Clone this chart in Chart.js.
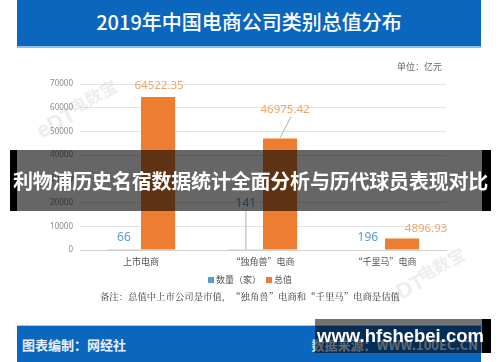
<!DOCTYPE html>
<html><head><meta charset="utf-8">
<script src="https://cdn.jsdelivr.net/npm/chart.js@4.4.0/dist/chart.umd.min.js"></script>
<style>
html,body{margin:0;padding:0;background:#fff;width:500px;height:362px;overflow:hidden;font-family:"Noto Sans CJK SC","Noto Sans",sans-serif}
#wrap{position:relative;width:500px;height:362px}
canvas{position:absolute;left:0;top:0}
.abs{position:absolute;white-space:nowrap}
#titleBand{left:17px;top:0;width:464px;height:46px;background:#0b66bd;border-bottom:2px solid #8cc3ea}
#title{left:17px;width:464px;top:9px;text-align:center;color:#fff;font-size:20px;font-weight:500;line-height:26px}
#unit{right:58px;top:60px;font-size:9px;color:#666}
#legend{left:0;width:500px;top:273px;text-align:center;font-size:9px;color:#555}
.sw{display:inline-block;width:6px;height:6px;margin-right:2px;vertical-align:0px}
#note{left:0;width:500px;top:289px;text-align:center;font-size:9.4px;color:#333;font-family:"Noto Serif CJK SC","Noto Sans CJK SC",serif}
#footBand{left:17px;top:325px;width:464px;height:37px;background:#0b66bd;border-top:1px solid #9ccbeb}
#foot1{left:22px;top:335px;color:#e8f0fa;font-size:13px;font-weight:700}
#foot2{right:22px;top:335px;color:#d8e6f5;font-size:13px;font-weight:700}
#banner{left:10px;top:150px;width:481px;height:61px}
.blk{position:absolute;top:0;height:100%;background:#000}
#bannerMid{position:absolute;left:7px;right:9px;top:0;height:100%;background:rgba(0,0,0,0.6)}
#bannerText{left:10px;width:481px;top:163px;text-align:center;color:#fff;font-size:20px;font-weight:700;line-height:36px;letter-spacing:-0.2px}
#site{left:315px;top:319px;width:176px;height:34px}
#siteText{left:317px;width:167px;top:321px;text-align:center;color:#fff;font-size:18.5px;font-weight:700;font-family:"Liberation Sans","DejaVu Sans",sans-serif;line-height:30px}
.wm{position:absolute;color:rgba(140,140,140,0.16);font-weight:700;transform:rotate(-28deg);transform-origin:left bottom}
</style></head>
<body><div id="wrap">
<div class="abs" id="titleBand"></div>
<div class="abs" id="title">2019年中国电商公司类别总值分布</div>
<canvas id="c" width="500" height="362"></canvas>
<div class="wm" style="left:44px;top:118px;font-size:22px;font-family:'Liberation Sans',sans-serif">eDT</div>
<div class="wm" style="left:76px;top:94px;font-size:17px">电数宝</div>
<div class="wm" style="left:393px;top:285px;font-size:22px;font-family:'Liberation Sans',sans-serif">eDT</div>
<div class="wm" style="left:424px;top:262px;font-size:17px">电数宝</div>
<div class="abs" id="unit">单位：亿元</div>
<div class="abs" id="legend"><span class="sw" style="background:#5b9bd5"></span>数量（家） <span class="sw" style="background:#ed7d31;margin-left:3px"></span>总值</div>
<div class="abs" id="note">备注：总值中上市公司是市值，“独角兽”电商和“千里马”电商是估值</div>
<div class="abs" id="footBand"></div>
<div class="abs" id="foot1">图表编制：网经社</div>
<div class="abs" id="foot2">数据来源：WWW.100EC.CN</div>
<div class="abs" id="banner"><div class="blk" style="left:0;width:7px"></div><div id="bannerMid"></div><div class="blk" style="right:0;width:9px"></div></div>
<div class="abs" id="bannerText">利物浦历史名宿数据统计全面分析与历代球员表现对比</div>
<div class="abs" id="site"><div id="bannerMid" style="left:0;right:9px;background:rgba(0,0,0,0.55)"></div><div class="blk" style="right:0;width:9px"></div></div>
<div class="abs" id="siteText">www.hfshebei.com</div>
</div>
<script>
const categories = ["上市电商", "“独角兽”电商", "“千里马”电商"];
const countValues = [66, 141, 196];
const totalValues = [64522.35, 46975.42, 4896.93];
const seriesNames = ["数量（家）", "总值"];
const yTicks = [0, 10000, 20000, 30000, 40000, 50000, 60000, 70000];

// label offsets (style only): [dx, dy, leaderLine]
const countLabelStyle = [[0,-12,false],[0,-46,true],[0,-12,false]];
const totalLabelStyle = [[1,-11,false],[5,-29,true],[24,-10,false]];

const labelPlugin = {
  id:'labels',
  afterDatasetsDraw(chart){
    const ctx = chart.ctx;
    const sets = [[0,countValues,countLabelStyle,'#5b9bd5',v=>String(v),12],[1,totalValues,totalLabelStyle,'#f0a468',v=>v.toFixed(2),11.5]];
    sets.forEach(([di,vals,st,col,fmt,fs])=>{
      const meta = chart.getDatasetMeta(di);
      meta.data.forEach((bar,i)=>{
        const [dx,dy,lead] = st[i];
        const lx = bar.x+dx, ly = bar.y+dy;
        ctx.save();
        if(lead){
          ctx.strokeStyle='#9a9a9a';ctx.lineWidth=0.8;ctx.beginPath();
          if(di===0){ctx.moveTo(lx,ly+7);ctx.lineTo(bar.x,bar.y);}
          else{ctx.moveTo(lx+6,ly+7);ctx.lineTo(bar.x,bar.y-1);}
          ctx.stroke();
        }
        ctx.fillStyle=col;ctx.font=fs+'px "Noto Sans","DejaVu Sans",sans-serif';
        ctx.textAlign='center';ctx.textBaseline='middle';
        ctx.fillText(fmt(vals[i]),lx,ly);
        ctx.restore();
      });
    });
  }
};

new Chart(document.getElementById('c'),{
  type:'bar',
  data:{labels:categories,datasets:[
    {label:seriesNames[0],data:countValues,backgroundColor:'#5b9bd5',barPercentage:1,categoryPercentage:0.56},
    {label:seriesNames[1],data:totalValues,backgroundColor:'#ed7d31',barPercentage:1,categoryPercentage:0.56}
  ]},
  options:{
    responsive:false,animation:false,
    layout:{padding:{left:0,right:54,top:84,bottom:84}},
    plugins:{legend:{display:false},tooltip:{enabled:false},title:{display:false}},
    scales:{
      y:{min:0,max:70000,
        afterBuildTicks:s=>{s.ticks=yTicks.map(v=>({value:v}));},
        afterFit:s=>{s.width=80;},
        border:{display:false},
        grid:{color:'#e4e4e4',drawTicks:false,lineWidth:1},
        ticks:{padding:7,color:'#8a8a8a',callback:v=>String(v),font:{size:8,family:'"Noto Sans","DejaVu Sans",sans-serif'}}
      },
      x:{
        afterFit:s=>{s.height=28;},
        border:{display:true,color:'#d0d0d0'},
        grid:{display:false,drawTicks:false},
        ticks:{padding:6,color:'#555',font:{size:9,family:'"Noto Sans CJK SC",sans-serif'}}
      }
    }
  },
  plugins:[labelPlugin]
});
</script>
</body></html>
